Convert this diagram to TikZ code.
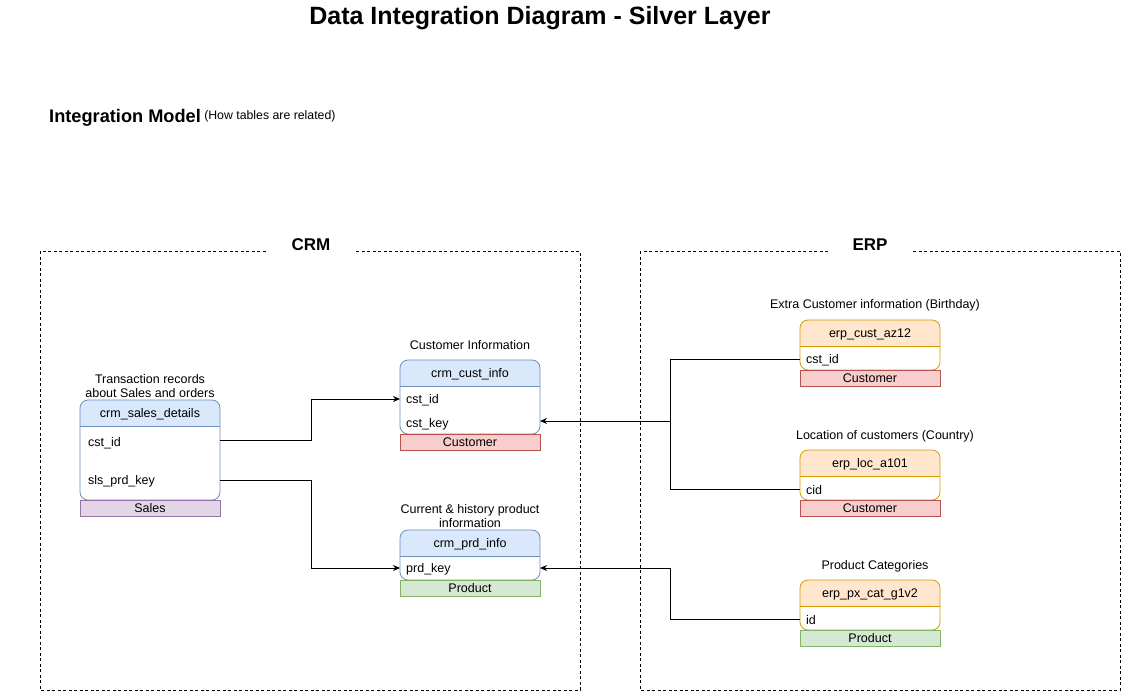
\documentclass[tikz,border=0pt]{standalone}
\usepackage{fontspec}
\setmainfont{Liberation Sans}
\usetikzlibrary{arrows.meta}
\definecolor{crmfill}{HTML}{DAE8FC}
\definecolor{crmline}{HTML}{6C8EBF}
\definecolor{erpfill}{HTML}{FFE6CC}
\definecolor{erpline}{HTML}{D79B00}
\definecolor{custfill}{HTML}{F8CECC}
\definecolor{custline}{HTML}{B85450}
\definecolor{prodfill}{HTML}{D5E8D4}
\definecolor{prodline}{HTML}{82B366}
\definecolor{salesfill}{HTML}{E1D5E7}
\definecolor{salesline}{HTML}{9673A6}
\tikzset{
  txt/.style={font=\fontsize{12.5}{14}\selectfont, inner sep=0pt},
  lbl/.style={font=\fontsize{12.5}{14}\selectfont, inner sep=0pt, align=center},
  fld/.style={font=\fontsize{12.5}{14}\selectfont, inner sep=0pt, anchor=west},
  area/.style={draw, line width=0.7pt, dash pattern=on 3pt off 2.5pt},
  areatitle/.style={font=\fontsize{17}{20}\selectfont\bfseries, fill=white, inner xsep=24pt, inner ysep=2pt},
  tagbox/.style={draw, line width=0.8pt, minimum width=140pt, minimum height=16pt, inner sep=0pt, font=\fontsize{12.5}{14}\selectfont},
  conn/.style={draw, line width=0.8pt, -{Stealth[length=7pt,width=6pt]}},
  connplain/.style={draw, line width=0.8pt}
}
% #1 name, #2 x left, #3 y top, #4 y sep, #5 y bottom, #6 fill, #7 line, #8 title
\newcommand\dbtable[8]{%
  \begin{scope}
    \clip[rounded corners=8pt] (#2,#3) rectangle (#2+140,#5);
    \fill[white] (#2,#3) rectangle (#2+140,#5);
    \fill[#6] (#2,#3) rectangle (#2+140,#4);
  \end{scope}
  \draw[#7, line width=0.8pt, rounded corners=8pt] (#2,#3) rectangle (#2+140,#5);
  \draw[#7, line width=0.8pt] (#2,#4) -- (#2+140,#4);
  \node[txt] (#1) at (#2+70,{(#3+#4)/2+1}) {#8};
  \coordinate (#1L) at (#2,#3);
  \coordinate (#1R) at (#2+140,#3);
}
\begin{document}
\begin{tikzpicture}[x=1pt,y=-1pt]
\useasboundingbox[fill=white] (0,0) rectangle (1121,691);

% titles
\node[font=\fontsize{25}{28}\selectfont\bfseries, inner sep=0pt] (title) at (540,18.5) {Data Integration Diagram - Silver Layer};
\node[font=\fontsize{18.2}{20}\selectfont\bfseries, inner sep=0pt, anchor=base west] (im) at (49,122) {Integration Model};
\node[font=\fontsize{12.3}{14}\selectfont, inner sep=0pt, anchor=base west] (imsub) at ([yshift=3pt]im.base east) {\hspace{3pt}(How tables are related)};

% areas
\draw[area] (40,251) rectangle (580,690);
\node[areatitle] (crm) at (311,245) {CRM};
\draw[area] (640,251) rectangle (1120,690);
\node[areatitle] (erp) at (870,245) {ERP};

% crm_sales_details
\node[lbl] (salesLbl) at (150,386) {Transaction records\\about Sales and orders};
\dbtable{sales}{80}{400}{426}{500}{crmfill}{crmline}{crm\_sales\_details}
\node[fld] (scst) at (88,443) {cst\_id};
\node[fld] (sprd) at (88,481) {sls\_prd\_key};
\node[tagbox, fill=salesfill, draw=salesline] (salesTag) at (150,508) {Sales};

% crm_cust_info
\node[lbl] (custLbl) at (470,345.5) {Customer Information};
\dbtable{cust}{400}{360}{386}{434}{crmfill}{crmline}{crm\_cust\_info}
\node[fld] (ccst) at (406,400) {cst\_id};
\node[fld] (ckey) at (406,424) {cst\_key};
\node[tagbox, fill=custfill, draw=custline] (custTag) at (470,442) {Customer};

% crm_prd_info
\node[lbl] (prdLbl) at (470,516) {Current \& history product\\information};
\dbtable{prd}{400}{530}{556}{580}{crmfill}{crmline}{crm\_prd\_info}
\node[fld] (pkey) at (406,569) {prd\_key};
\node[tagbox, fill=prodfill, draw=prodline] (prdTag) at (470,588) {Product};

% erp_cust_az12
\node[lbl] (azLbl) at (875,305) {Extra Customer information (Birthday)};
\dbtable{az}{800}{320}{346}{370}{erpfill}{erpline}{erp\_cust\_az12}
\node[fld] (azcst) at (806,360) {cst\_id};
\node[tagbox, fill=custfill, draw=custline] (azTag) at (870,378) {Customer};

% erp_loc_a101
\node[lbl] (locLbl) at (885,436) {Location of customers (Country)};
\dbtable{loc}{800}{450}{476}{500}{erpfill}{erpline}{erp\_loc\_a101}
\node[fld] (loccid) at (806,490) {cid};
\node[tagbox, fill=custfill, draw=custline] (locTag) at (870,508) {Customer};

% erp_px_cat_g1v2
\node[lbl] (pxLbl) at (875,566) {Product Categories};
\dbtable{px}{800}{580}{606}{630}{erpfill}{erpline}{erp\_px\_cat\_g1v2}
\node[fld] (pxid) at (806,620) {id};
\node[tagbox, fill=prodfill, draw=prodline] (pxTag) at (870,638) {Product};

% connector anchor rows
\coordinate (r1) at ([yshift=3pt]scst.west);
\coordinate (r2) at ([yshift=1pt]sprd.west);
\coordinate (r3) at ([yshift=1pt]ccst.west);
\coordinate (r4) at ([yshift=3pt]ckey.west);
\coordinate (r5) at ([yshift=1pt]pkey.west);
\coordinate (r6) at ([yshift=1pt]azcst.west);
\coordinate (r7) at ([yshift=1pt]loccid.west);
\coordinate (r8) at ([yshift=1pt]pxid.west);
\coordinate (j1) at (311,0);
\coordinate (j2) at (670,0);
\path[conn] (salesR |- r1) -- (j1 |- r1) -- (j1 |- r3) -- (custL |- r3);
\path[conn] (salesR |- r2) -- (j1 |- r2) -- (j1 |- r5) -- (prdL |- r5);
\path[conn] (azL |- r6) -- (j2 |- r6) -- (j2 |- r4) -- (custR |- r4);
\path[connplain] (locL |- r7) -- (j2 |- r7) -- (j2 |- r4);
\path[conn] (pxL |- r8) -- (j2 |- r8) -- (j2 |- r5) -- (prdR |- r5);
\end{tikzpicture}
\end{document}
